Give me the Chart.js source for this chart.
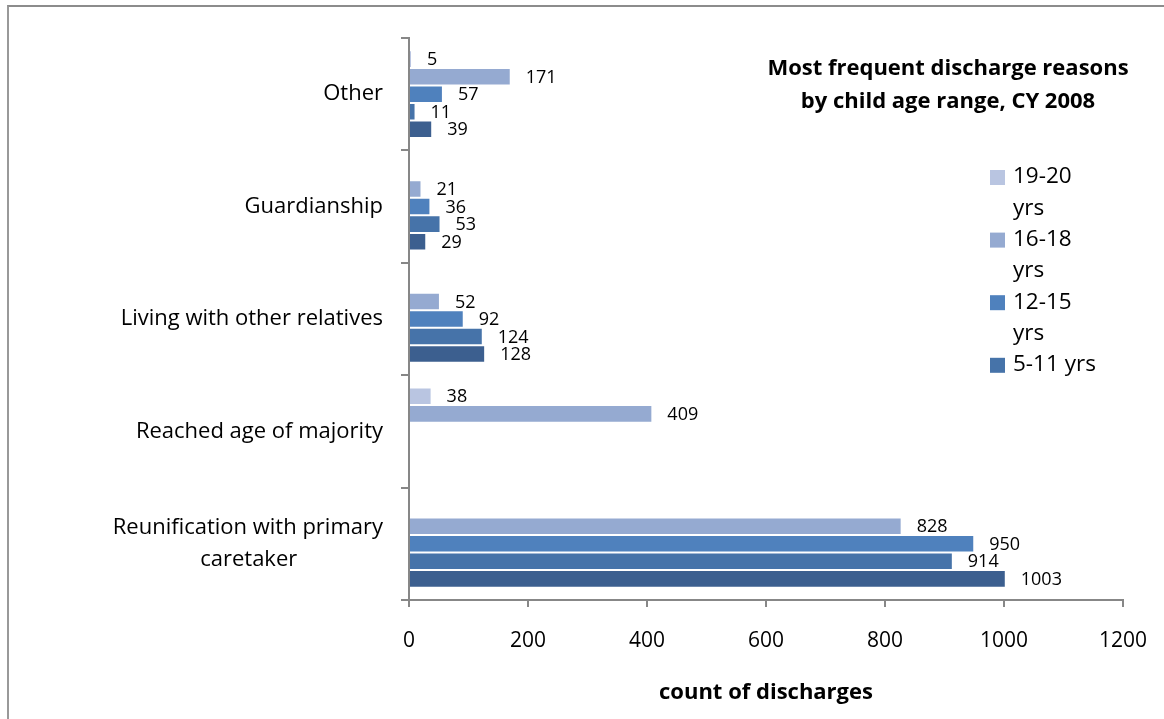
<!DOCTYPE html>
<html lang="en">
<head>
  <meta charset="UTF-8">
  <title>Most frequent discharge reasons by child age range, CY 2008</title>
  <script src="https://cdn.jsdelivr.net/npm/chart.js"></script>
  <style>
    body { margin: 0; background: #fff; overflow: hidden; }
    .wrap { position: relative; width: 1164px; height: 719px; }
    .frame {
      position: absolute; left: 7px; top: 5px; width: 2000px; height: 2000px;
      border-left: 2px solid #999; border-top: 2px solid #8c8c8c;
    }
    canvas { position: absolute; left: 0; top: 0; }
  </style>
</head>
<body>
  <div class="wrap">
    <div class="frame"></div>
    <canvas id="chart" width="1164" height="719"></canvas>
  </div>
  <script>
    // categories (top to bottom); the trailing spaces centre the second line under the first
    const reasons = [
      'Other',
      'Guardianship',
      'Living with other relatives',
      'Reached age of majority',
      ['Reunification with primary', 'caretaker' + '\u00a0'.repeat(15)]
    ];

    // series, in order top to bottom inside each group
    const ageRanges = ['19-20 yrs', '16-18 yrs', '12-15 yrs', '5-11 yrs', '0-4 yrs'];
    const yrs19to20 = [5, null, null, 38, null];
    const yrs16to18 = [171, 21, 52, 409, 828];
    const yrs12to15 = [57, 36, 92, null, 950];
    const yrs5to11 = [11, 53, 124, null, 914];
    const yrs0to4 = [39, 29, 128, null, 1003];
    const seriesColors = ['#b9c5e1', '#95aad1', '#4f81bd', '#4673a9', '#3c5f8f'];

    // only the first four show in the legend (the fifth is cut off)
    const legendCount = 4;

    const xTicks = [0, 200, 400, 600, 800, 1000, 1200];
    const titleLines = ['Most frequent discharge reasons', 'by child age range, CY 2008'];
    const xTitle = 'count of discharges';

    const FONT = '"Open Sans", sans-serif';

    const allSeries = [yrs19to20, yrs16to18, yrs12to15, yrs5to11, yrs0to4];

    // value labels at bar ends
    const valueLabels = {
      id: 'valueLabels',
      afterDatasetsDraw(chart) {
        const ctx = chart.ctx;
        ctx.save();
        ctx.font = '18px ' + FONT;
        ctx.fillStyle = '#000';
        ctx.textAlign = 'left';
        ctx.textBaseline = 'middle';
        chart.data.datasets.forEach((ds, i) => {
          chart.getDatasetMeta(i).data.forEach((bar, j) => {
            const v = ds.data[j];
            if (v === null || v === undefined) return;
            ctx.fillText(String(v), bar.x + 15, bar.y + 1);
          });
        });
        ctx.restore();
      }
    };

    // title + legend drawn inside the plot area like the original
    const overlay = {
      id: 'overlay',
      afterDraw(chart) {
        const ctx = chart.ctx;
        ctx.save();
        ctx.fillStyle = '#000';
        ctx.textAlign = 'center';
        ctx.textBaseline = 'middle';
        ctx.font = 'bold 22px ' + FONT;
        titleLines.forEach((t, i) => ctx.fillText(t, 948, 69 + i * 33));

        ctx.font = '22.5px ' + FONT;
        ctx.textAlign = 'left';
        let y = 177;
        for (let i = 0; i < legendCount; i++) {
          ctx.fillStyle = seriesColors[i];
          ctx.fillRect(990, y - 7, 15, 15);
          ctx.fillStyle = '#000';
          const label = ageRanges[i];
          let lines = [label];
          if (ctx.measureText(label).width > 88) {
            const k = label.lastIndexOf(' ');
            lines = [label.slice(0, k), label.slice(k + 1)];
          }
          lines.forEach(l => { ctx.fillText(l, 1013, y); y += 31.3; });
        }
        ctx.restore();
      }
    };

    new Chart(document.getElementById('chart'), {
      type: 'bar',
      data: {
        labels: reasons,
        datasets: allSeries.map((d, i) => ({
          label: ageRanges[i],
          data: d,
          backgroundColor: seriesColors[i],
          borderColor: 'rgba(255,255,255,0.35)',
          borderWidth: 1,
          barPercentage: 1.0,
          categoryPercentage: 0.78
        }))
      },
      options: {
        indexAxis: 'y',
        responsive: false,
        animation: false,
        layout: { padding: { top: 38, right: 41, left: 0, bottom: 0 } },
        plugins: {
          legend: { display: false },
          title: { display: false },
          tooltip: { enabled: false }
        },
        scales: {
          x: {
            min: 0,
            max: 1200,
            afterBuildTicks(scale) { scale.ticks = xTicks.map(v => ({ value: v })); },
            afterFit(scale) { scale.height = 119; scale.paddingLeft = 0; scale.paddingRight = 0; },
            grid: { drawOnChartArea: false, tickLength: 7, color: '#878787', lineWidth: 2 },
            border: { color: '#878787', width: 2 },
            ticks: {
              color: '#000', font: { family: FONT, size: 21 }, padding: 21, maxRotation: 0,
              callback: v => String(v)
            },
            title: {
              display: true,
              text: xTitle,
              color: '#000',
              font: { family: FONT, size: 22, weight: 'bold' },
              padding: { top: 0, bottom: 13 }
            }
          },
          y: {
            offset: true,
            afterFit(scale) { scale.width = 409; scale.paddingTop = 0; scale.paddingBottom = 0; },
            grid: { offset: true, drawOnChartArea: false, tickLength: 8, color: '#878787', lineWidth: 2 },
            border: { color: '#878787', width: 2 },
            ticks: { color: '#000', font: { family: FONT, size: 22, lineHeight: 1.45 }, padding: 18 }
          }
        }
      },
      plugins: [valueLabels, overlay]
    });
  </script>
</body>
</html>
